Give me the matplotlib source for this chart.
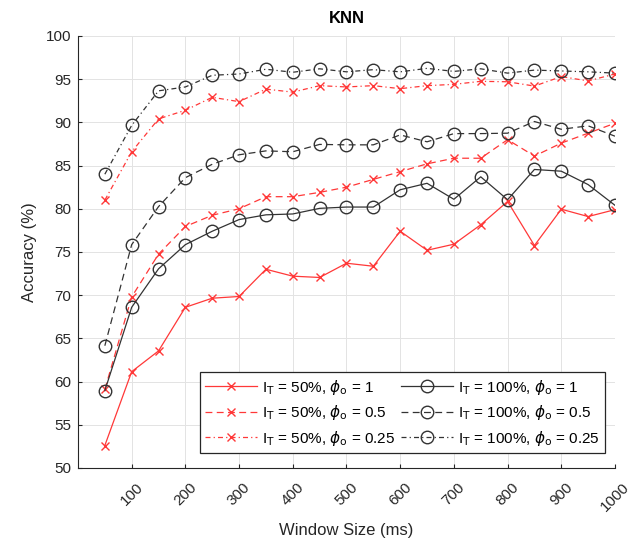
import numpy as np
import matplotlib
matplotlib.use("Agg")
import matplotlib.pyplot as plt

plt.rcParams['font.family'] = ['Liberation Sans', 'DejaVu Sans']
plt.rcParams['mathtext.fontset'] = 'dejavusans'

# window sizes (ms)
window = [50, 100, 150, 200, 250, 300, 350, 400, 450, 500,
          550, 600, 650, 700, 750, 800, 850, 900, 950, 1000]

# accuracy (%)
acc_50_1 = [52.6, 61.15, 63.55, 68.6, 69.65, 69.85, 73.0, 72.2, 72.05, 73.7,
            73.35, 77.4, 75.2, 75.9, 78.15, 80.85, 75.75, 79.95, 79.1, 79.9]
acc_50_05 = [59.1, 69.8, 74.75, 77.95, 79.25, 80.0, 81.4, 81.4, 81.9, 82.5,
             83.4, 84.3, 85.2, 85.85, 85.85, 88.0, 86.1, 87.6, 88.75, 89.9]
acc_50_025 = [81.0, 86.6, 90.4, 91.4, 92.9, 92.4, 93.85, 93.5, 94.25, 94.1,
              94.25, 93.9, 94.25, 94.4, 94.75, 94.7, 94.2, 95.3, 94.8, 95.6]
acc_100_1 = [58.95, 68.6, 73.05, 75.85, 77.4, 78.75, 79.3, 79.4, 80.05, 80.2,
             80.2, 82.2, 82.95, 81.1, 83.7, 81.05, 84.55, 84.35, 82.8, 80.4]
acc_100_05 = [64.15, 75.85, 80.25, 83.6, 85.15, 86.25, 86.7, 86.6, 87.45, 87.4,
              87.4, 88.55, 87.75, 88.7, 88.7, 88.75, 90.1, 89.2, 89.6, 88.4]
acc_100_025 = [84.0, 89.65, 93.65, 94.1, 95.45, 95.6, 96.15, 95.8, 96.2, 95.85,
               96.1, 95.85, 96.25, 95.9, 96.2, 95.7, 96.05, 95.95, 95.85, 95.7]

labels = [r'I$_{\rm T}$ = 50%, $\phi_{\rm o}$ = 1',
          r'I$_{\rm T}$ = 50%, $\phi_{\rm o}$ = 0.5',
          r'I$_{\rm T}$ = 50%, $\phi_{\rm o}$ = 0.25',
          r'I$_{\rm T}$ = 100%, $\phi_{\rm o}$ = 1',
          r'I$_{\rm T}$ = 100%, $\phi_{\rm o}$ = 0.5',
          r'I$_{\rm T}$ = 100%, $\phi_{\rm o}$ = 0.25']

red = '#ff3838'
blk = '#333333'
dash = (5.5, 3.5)
dashdot = (4, 2.5, 1, 2.5)

fig = plt.figure(figsize=(6.34, 5.45), dpi=100)
ax = fig.add_axes([0.123, 0.1413, 0.847, 0.7927])

series = [(acc_50_1, red, 'x', None),
          (acc_50_05, red, 'x', dash),
          (acc_50_025, red, 'x', dashdot),
          (acc_100_1, blk, 'o', None),
          (acc_100_05, blk, 'o', dash),
          (acc_100_025, blk, 'o', dashdot)]

for (vals, col, mk, ds), lab in zip(series, labels):
    ms = 6 if mk == 'x' else 9
    line, = ax.plot(window, vals, color=col, lw=0.9, marker=mk, ms=ms,
                    mfc='none', mec=col, mew=1.0, label=lab)
    if ds is not None:
        line.set_dashes(ds)

ax.set_xlim(0, 1000)
ax.set_ylim(50, 100)
ax.set_xticks(np.arange(100, 1001, 100))
ax.set_yticks(np.arange(50, 101, 5))
ax.grid(True, color='#e3e3e3', lw=0.7)
ax.set_axisbelow(True)

for s in ['top', 'right']:
    ax.spines[s].set_visible(False)
for s in ['left', 'bottom']:
    ax.spines[s].set_color('#262626')
    ax.spines[s].set_linewidth(0.8)

ax.tick_params(direction='in', length=3, width=0.8, colors='#262626',
               labelsize=11)
ax.tick_params(axis='x', pad=9)
ax.tick_params(axis='y', pad=5)
for t in ax.get_xticklabels():
    t.set_rotation(45)
    t.set_ha('center')

ax.set_title('KNN', fontsize=12, fontweight='bold', pad=9)
ax.set_xlabel('Window Size (ms)', fontsize=12, color='#262626', labelpad=6)
ax.set_ylabel('Accuracy (%)', fontsize=12, color='#262626', labelpad=6)

leg = ax.legend(loc='lower right', bbox_to_anchor=(0.981, 0.035), ncol=2,
                fontsize=11, frameon=True, fancybox=False,
                edgecolor='#262626', framealpha=1,
                handlelength=3.4, handletextpad=0.3, columnspacing=0.4,
                labelspacing=0.42, borderpad=0.35, borderaxespad=0)
leg.get_frame().set_linewidth(0.9)

fig.savefig('out.png', dpi=100)
